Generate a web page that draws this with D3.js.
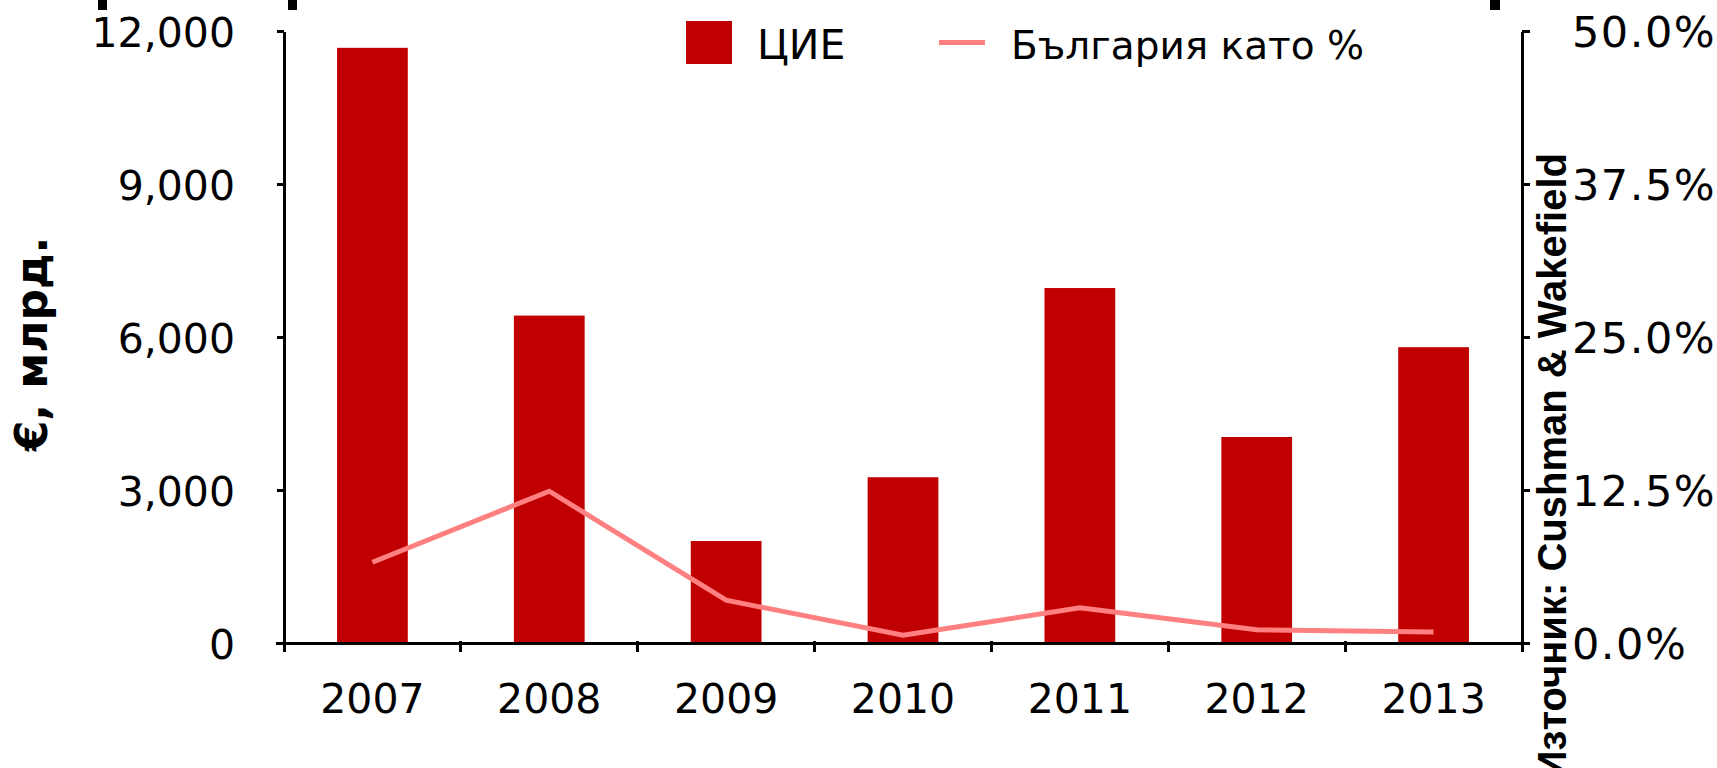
<!DOCTYPE html>
<html>
<head>
<meta charset="utf-8">
<title>ЦИЕ</title>
<style>
  body { margin: 0; background: #fff; }
  svg { display: block; font-family: "DejaVu Sans", Verdana, sans-serif; }
  .axis path, .axis line { stroke: #000; stroke-width: 3px; shape-rendering: crispEdges; }
  .axis text { fill: #000; font-family: "DejaVu Sans", Verdana, sans-serif; }
  .line { fill: none; stroke: #ff8080; stroke-width: 5px; }
</style>
</head>
<body>
<svg width="1717" height="768"></svg>
<script src="https://d3js.org/d3.v7.min.js"></script>
<script>

var years = ["2007", "2008", "2009", "2010", "2011", "2012", "2013"];
var cie = [11670, 6420, 2000, 3250, 6960, 4040, 5800];          // € млрд.
var bgShare = [6.6, 12.4, 3.5, 0.63, 2.87, 1.08, 0.9];          // %
var leftTicks = [0, 3000, 6000, 9000, 12000];
var rightTicks = [0, 12.5, 25, 37.5, 50];

var svg = d3.select("svg"),
    plotLeft = 284, plotRight = 1522, plotTop = 31, plotBottom = 643;

var x = d3.scaleBand().domain(years).range([plotLeft, plotRight]),
    y = d3.scaleLinear().domain([0, 12000]).range([plotBottom, plotTop]),
    y2 = d3.scaleLinear().domain([0, 50]).range([plotBottom, plotTop]);

// odd black marks cut at the top edge of the original
[[98, 9], [288, 9], [1490, 10]].forEach(function(m) {
  svg.append("rect").attr("x", m[0]).attr("y", 0).attr("width", m[1]).attr("height", 10).attr("fill", "#000");
});

// bars
svg.selectAll(".bar")
    .data(years)
  .enter().append("rect")
    .attr("class", "bar")
    .attr("x", function(d) { return x(d) + x.bandwidth() * 0.3; })
    .attr("width", x.bandwidth() * 0.4)
    .attr("y", function(d, i) { return y(cie[i]); })
    .attr("height", function(d, i) { return plotBottom - y(cie[i]); })
    .attr("fill", "#c00000");

// line
var line = d3.line()
    .x(function(d, i) { return x(years[i]) + x.bandwidth() / 2; })
    .y(function(d) { return y2(d); });

svg.append("path")
    .datum(bgShare)
    .attr("class", "line")
    .attr("d", line);

// left axis
var gy = svg.append("g")
    .attr("class", "axis")
    .attr("transform", "translate(" + plotLeft + ",0)")
    .call(d3.axisLeft(y).tickValues(leftTicks).tickSize(7).tickSizeOuter(0).tickPadding(42)
      .tickFormat(d3.format(",")));
gy.attr("font-family", null);
gy.selectAll("text").style("font-size", "41px").attr("dy", "0.37em");

// right axis
var gy2 = svg.append("g")
    .attr("class", "axis")
    .attr("transform", "translate(" + plotRight + ",0)")
    .call(d3.axisRight(y2).tickValues(rightTicks).tickSize(8).tickSizeOuter(0).tickPadding(42)
      .tickFormat(function(d) { return d3.format(".1f")(d) + "%"; }));
gy2.attr("font-family", null);
gy2.selectAll("text").style("font-size", "43px").style("letter-spacing", "1.5px").attr("dy", "0.37em");

// x axis: ticks sit on the category boundaries
var gx = svg.append("g")
    .attr("class", "axis")
    .attr("transform", "translate(0," + plotBottom + ")");

gx.append("line")
    .attr("x1", plotLeft - 8).attr("x2", plotRight + 7)
    .attr("y1", 0).attr("y2", 0);

gx.selectAll(".tick")
    .data(years.concat(["end"]))
  .enter().append("line")
    .attr("x1", function(d) { return d === "end" ? plotRight : x(d); })
    .attr("x2", function(d) { return d === "end" ? plotRight : x(d); })
    .attr("y1", -2).attr("y2", 9);

gx.selectAll(".label")
    .data(years)
  .enter().append("text")
    .attr("x", function(d) { return x(d) + x.bandwidth() / 2; })
    .attr("y", 70)
    .attr("text-anchor", "middle")
    .style("font-size", "41px")
    .text(function(d) { return d; });

// axis titles
svg.append("text")
    .attr("transform", "translate(47,344) rotate(-90)")
    .attr("text-anchor", "middle")
    .style("font-size", "44px")
    .style("font-weight", "bold")
    .text("€, млрд.");

svg.append("text")
    .attr("transform", "translate(1566,153) rotate(-90)")
    .attr("text-anchor", "end")
    .style("font-family", "'Liberation Sans', Arial, sans-serif")
    .style("font-size", "40px")
    .style("font-weight", "bold")
    .text("Източник: Cushman & Wakefield");

// legend
var legend = svg.append("g");

legend.append("rect")
    .attr("x", 686).attr("y", 21).attr("width", 46).attr("height", 43)
    .attr("fill", "#c00000");
legend.append("text").attr("x", 757).attr("y", 59).style("font-size", "41px").text("ЦИЕ");

legend.append("line")
    .attr("x1", 939).attr("x2", 985).attr("y1", 42.5).attr("y2", 42.5)
    .attr("stroke", "#ff8080").attr("stroke-width", 5);
legend.append("text").attr("x", 1011).attr("y", 59).style("font-size", "39px").text("България като %");

</script>
</body>
</html>
